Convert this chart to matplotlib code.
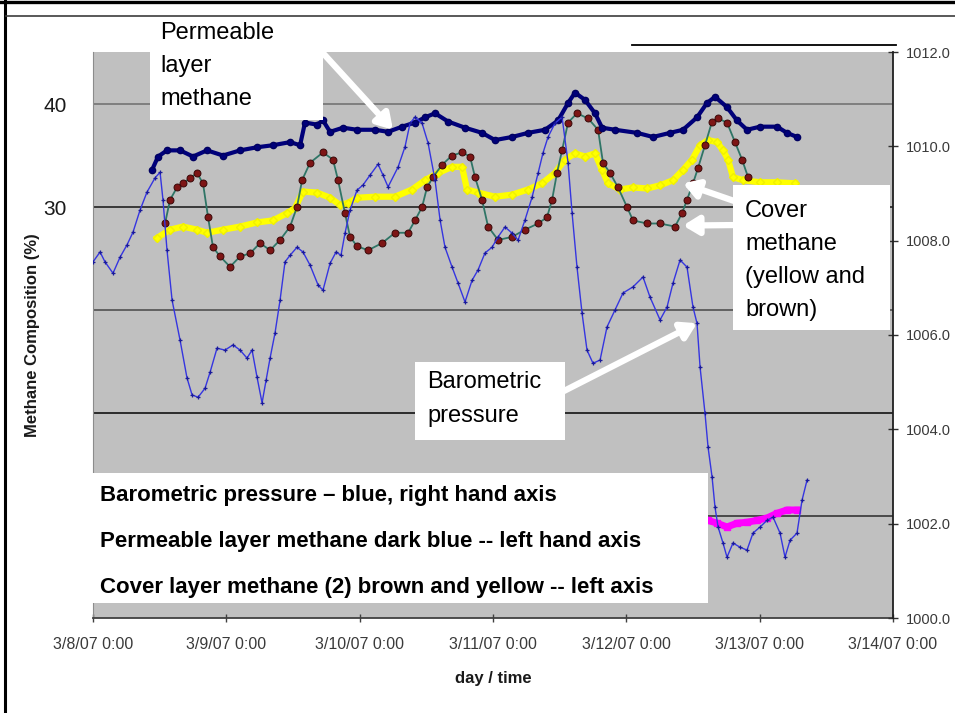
import numpy as np
import pandas as pd
import matplotlib
matplotlib.use("Agg")
import matplotlib.pyplot as plt
import matplotlib.dates as mdates
from matplotlib.patches import Rectangle
from matplotlib.lines import Line2D
from matplotlib.ticker import FuncFormatter

W, H = 955, 713
plt.rcParams["font.family"] = ["Liberation Sans", "DejaVu Sans"]

# ── series (time in days after 3/8/07 0:00) ────────────────────────────────
# barometric pressure, hPa (right axis)
pressure_day = [0.000, 0.053, 0.090, 0.150, 0.203, 0.255, 0.300, 0.353, 0.405, 0.465,
                0.503, 0.525, 0.555, 0.593, 0.653, 0.705, 0.743, 0.788, 0.840, 0.878,
                0.930, 0.990, 1.050, 1.103, 1.155, 1.193, 1.230, 1.268, 1.298, 1.328,
                1.365, 1.403, 1.440, 1.478, 1.530, 1.575, 1.628, 1.688, 1.725, 1.778,
                1.823, 1.860, 1.890, 1.928, 1.980, 2.025, 2.078, 2.138, 2.175, 2.213,
                2.288, 2.340, 2.378, 2.415, 2.468, 2.513, 2.565, 2.603, 2.640, 2.693,
                2.738, 2.790, 2.843, 2.888, 2.940, 2.993, 3.038, 3.090, 3.143, 3.188,
                3.240, 3.293, 3.338, 3.375, 3.413, 3.465, 3.518, 3.563, 3.593, 3.630,
                3.668, 3.705, 3.750, 3.803, 3.855, 3.915, 3.975, 4.050, 4.125, 4.178,
                4.253, 4.305, 4.350, 4.403, 4.455, 4.500, 4.530, 4.553, 4.590, 4.613,
                4.643, 4.665, 4.688, 4.725, 4.755, 4.800, 4.853, 4.905, 4.950, 5.003,
                5.055, 5.100, 5.153, 5.190, 5.228, 5.280, 5.318, 5.355]
pressure_hpa = [1007.55, 1007.76, 1007.55, 1007.31, 1007.65, 1007.91, 1008.18, 1008.65, 1009.03, 1009.33,
                1009.45, 1008.86, 1007.80, 1006.74, 1005.89, 1005.09, 1004.73, 1004.68, 1004.87, 1005.21,
                1005.72, 1005.68, 1005.79, 1005.68, 1005.51, 1005.68, 1005.11, 1004.56, 1005.04, 1005.51,
                1006.04, 1006.74, 1007.55, 1007.69, 1007.86, 1007.76, 1007.48, 1007.06, 1006.95, 1007.52,
                1007.76, 1007.69, 1008.16, 1008.65, 1009.07, 1009.18, 1009.39, 1009.62, 1009.39, 1009.14,
                1009.56, 1009.99, 1010.49, 1010.62, 1010.49, 1010.07, 1009.29, 1008.44, 1007.86, 1007.44,
                1007.10, 1006.70, 1007.16, 1007.38, 1007.74, 1007.86, 1008.08, 1008.29, 1008.16, 1008.01,
                1008.44, 1008.92, 1009.43, 1009.86, 1010.20, 1010.49, 1010.62, 1009.65, 1008.59, 1007.44,
                1006.46, 1005.68, 1005.40, 1005.47, 1006.17, 1006.53, 1006.89, 1007.02, 1007.23, 1006.80,
                1006.32, 1006.59, 1007.10, 1007.59, 1007.44, 1006.59, 1006.25, 1005.32, 1004.34, 1003.62,
                1002.99, 1002.35, 1001.93, 1001.59, 1001.29, 1001.59, 1001.50, 1001.44, 1001.80, 1001.93,
                1002.07, 1002.14, 1001.80, 1001.29, 1001.65, 1001.80, 1002.50, 1002.92]

# second pressure record (magenta), hPa (right axis)
magenta_day = [4.613, 4.680, 4.755, 4.830, 4.905, 4.980, 5.055, 5.130, 5.205, 5.280]
magenta_hpa = [1002.07, 1002.01, 1001.93, 1002.01, 1002.03, 1002.07, 1002.12, 1002.22, 1002.29, 1002.29]

# permeable layer methane, % (left axis)
perm_day = [0.443, 0.488, 0.555, 0.653, 0.750, 0.855, 0.975, 1.103, 1.230, 1.350,
            1.478, 1.553, 1.590, 1.680, 1.725, 1.778, 1.875, 1.980, 2.115, 2.213,
            2.318, 2.415, 2.490, 2.565, 2.663, 2.790, 2.918, 3.015, 3.143, 3.263,
            3.390, 3.488, 3.563, 3.615, 3.690, 3.765, 3.818, 3.915, 4.080, 4.200,
            4.328, 4.425, 4.530, 4.605, 4.665, 4.755, 4.830, 4.905, 5.003, 5.130,
            5.205, 5.280]
perm_pct = [33.6, 34.9, 35.5, 35.5, 34.9, 35.5, 35.0, 35.5, 35.8, 36.0,
            36.3, 36.0, 38.2, 38.0, 38.4, 37.3, 37.7, 37.5, 37.5, 37.3,
            37.8, 38.2, 38.7, 39.1, 38.3, 37.7, 37.2, 36.5, 36.8, 37.2,
            37.5, 38.4, 40.1, 41.1, 40.4, 39.1, 37.7, 37.5, 37.2, 36.8,
            37.2, 37.5, 38.7, 40.1, 40.7, 39.7, 38.4, 37.5, 37.8, 37.8,
            37.2, 36.8]

# cover methane, brown record, % (left axis)
brown_day = [0.540, 0.578, 0.630, 0.675, 0.728, 0.780, 0.825, 0.863, 0.900, 0.953,
             1.028, 1.103, 1.178, 1.253, 1.328, 1.403, 1.478, 1.530, 1.568, 1.628,
             1.725, 1.800, 1.838, 1.890, 1.928, 1.980, 2.063, 2.168, 2.265, 2.363,
             2.415, 2.468, 2.505, 2.550, 2.618, 2.693, 2.768, 2.828, 2.865, 2.918,
             2.963, 3.038, 3.143, 3.240, 3.338, 3.405, 3.443, 3.480, 3.518, 3.563,
             3.630, 3.713, 3.788, 3.825, 3.878, 3.938, 4.005, 4.050, 4.155, 4.253,
             4.365, 4.418, 4.455, 4.500, 4.538, 4.590, 4.643, 4.688, 4.755, 4.815,
             4.868, 4.913]
brown_pct = [28.4, 30.7, 31.9, 32.3, 32.8, 33.3, 32.3, 29.0, 26.1, 25.2,
             24.2, 25.2, 25.5, 26.5, 25.8, 26.8, 28.1, 30.0, 32.6, 34.3,
             35.3, 34.6, 32.6, 29.4, 27.1, 26.2, 25.8, 26.5, 27.5, 27.5,
             28.7, 30.0, 31.9, 32.9, 34.1, 35.0, 35.3, 34.9, 32.9, 30.7,
             28.1, 26.8, 27.1, 27.8, 28.4, 29.0, 30.7, 33.3, 35.5, 38.2,
             39.1, 38.6, 37.5, 34.3, 33.3, 31.9, 30.0, 28.7, 28.4, 28.4,
             28.1, 29.4, 30.7, 32.3, 33.8, 36.0, 38.3, 38.6, 38.2, 36.3,
             34.6, 32.9]

# cover methane, yellow record, % (left axis)
yellow_day = [0.480, 0.578, 0.675, 0.780, 0.855, 0.975, 1.103, 1.230, 1.350, 1.455,
              1.515, 1.575, 1.680, 1.778, 1.853, 1.913, 1.980, 2.115, 2.265, 2.393,
              2.490, 2.588, 2.693, 2.768, 2.805, 2.888, 3.015, 3.143, 3.263, 3.368,
              3.465, 3.540, 3.615, 3.690, 3.765, 3.818, 3.863, 3.953, 4.050, 4.155,
              4.253, 4.350, 4.425, 4.493, 4.553, 4.613, 4.680, 4.725, 4.763, 4.800,
              4.875, 5.003, 5.130, 5.265]
yellow_pct = [27.0, 27.8, 28.1, 27.8, 27.5, 27.8, 28.1, 28.5, 28.7, 29.4,
              29.9, 31.5, 31.4, 30.9, 30.2, 30.4, 30.9, 31.0, 31.0, 31.7,
              32.6, 33.3, 33.9, 33.9, 31.7, 31.4, 31.0, 31.2, 31.7, 32.3,
              33.3, 34.6, 35.2, 34.9, 35.2, 33.6, 32.3, 31.7, 31.9, 31.8,
              32.1, 32.6, 33.6, 34.6, 36.0, 36.5, 36.3, 35.5, 34.6, 32.9,
              32.6, 32.4, 32.4, 32.3]

t0 = pd.Timestamp("2007-03-08 00:00")


def to_time(days):
    return t0 + pd.to_timedelta(np.asarray(days), unit="D")


def fig_xy(x, y):
    # pixel position (from top-left) -> figure fraction
    return x / W, 1 - y / H


def date_label(num, pos=None):
    d = mdates.num2date(num)
    return f"{d.month}/{d.day}/{d:%y} {d.hour}:{d:%M}"


fig = plt.figure(figsize=(W / 100, H / 100), dpi=100)
fig.patch.set_facecolor("white")
ax = fig.add_axes([93 / W, 1 - 618 / H, 800 / W, 566 / H])
ax.set_facecolor("#c0c0c0")

# horizontal grid (left axis decades)
for v, c in zip([0, 10, 20, 30, 40], ["#404040", "#202020", "#5a5a5a", "#2e2e2e", "#7a7a7a"]):
    ax.axhline(v, color=c, lw=1.3, zorder=1)

ax.plot(to_time(yellow_day), yellow_pct, color="#ffff00", lw=4.5, marker="D", ms=4.5,
        mec="#f0f000", zorder=3)
ax.plot(to_time(brown_day), brown_pct, color="#2f7566", lw=1.3, zorder=4)
ax.plot(to_time(brown_day), brown_pct, ls="none", marker="o", ms=5,
        mfc="#7d1515", mec="#3a0808", mew=0.7, zorder=5)
ax.plot(to_time(perm_day), perm_pct, color="#00007a", lw=3, marker="o", ms=4.5,
        mec="#000060", zorder=6)

ax.set_xlim(t0, t0 + pd.Timedelta(days=6))
ax.set_ylim(-9.9, 45.05)
ax.xaxis.set_major_locator(mdates.DayLocator())
ax.xaxis.set_major_formatter(FuncFormatter(date_label))
ax.tick_params(axis="x", direction="inout", length=6, width=1, color="#404040",
               labelsize=11.5, labelcolor="#3a3a3a", pad=11)
ax.set_yticks([30, 40])
ax.tick_params(axis="y", length=0, pad=19, labelsize=15, labelcolor="#1a1a1a")
ax.spines["top"].set_visible(False)
ax.spines["right"].set_visible(False)
ax.spines["left"].set_color("#8c8c8c")
ax.spines["left"].set_linewidth(0.8)
ax.spines["bottom"].set_color("#404040")
ax.spines["bottom"].set_linewidth(1.3)

ax2 = ax.twinx()
ax2.plot(to_time(magenta_day), magenta_hpa, color="#ff00ff", lw=5, marker="s", ms=5,
         mec="#ff00ff", zorder=2)
ax2.plot(to_time(pressure_day), pressure_hpa, color="#3535e0", lw=1, marker="+", ms=3,
         mew=0.9, mec="#1a1a9a", zorder=3)
ax2.set_ylim(1000, 1012)
ax2.set_yticks(np.arange(1000, 1013, 2))
ax2.yaxis.set_major_formatter(FuncFormatter(lambda v, p: f"{v:.1f}"))
ax2.tick_params(axis="y", direction="inout", length=7, width=1, color="#303030",
                labelsize=10.5, labelcolor="#3a3a3a", pad=6)
for s in ["top", "left", "bottom"]:
    ax2.spines[s].set_visible(False)
ax2.spines["right"].set_color("#202020")
ax2.spines["right"].set_linewidth(1.3)

# page frame lines
fig.add_artist(Line2D([0, 1], [1 - 1.5 / H] * 2, color="black", lw=2.4))
fig.add_artist(Line2D([5 / W] * 2, [0, 1], color="black", lw=2.2))
fig.add_artist(Line2D([6 / W, 1], [1 - 16 / H] * 2, color="#3c3c3c", lw=1.2))
fig.add_artist(Line2D([632 / W, 896 / W], [1 - 45 / H] * 2, color="black", lw=1.3))

# axis titles
fig.text(*fig_xy(33, 335), "Methane Composition (%)", rotation=90, ha="center",
         va="center", fontsize=12, fontweight="bold", color="#1a1a1a")
fig.text(*fig_xy(493, 678), "day / time", ha="center", va="center", fontsize=12,
         fontweight="bold", color="#1a1a1a")


def white_box(x0, y0, x1, y1):
    fig.add_artist(Rectangle(fig_xy(x0, y1), (x1 - x0) / W, (y1 - y0) / H,
                             transform=fig.transFigure, facecolor="white",
                             edgecolor="none"))


def box_lines(x, ys, lines, **kw):
    for y, s in zip(ys, lines):
        fig.text(*fig_xy(x, y), s, ha="left", va="center", color="black", **kw)


arrow_kw = dict(arrowstyle="-|>,head_length=0.9,head_width=0.55", color="white",
                lw=4.5, shrinkA=0, shrinkB=0)


def arrow(tail, tip, trans):
    ax2.annotate("", xy=(mdates.date2num(t0 + pd.Timedelta(days=tip[0])), tip[1]),
                 xycoords=trans, xytext=(tail[0], H - tail[1]),
                 textcoords="figure pixels", arrowprops=arrow_kw,
                 annotation_clip=False)


arrow((322, 52), (2.25, 37.5), ax.transData)
arrow((740, 203), (4.425, 32.3), ax.transData)
arrow((740, 225), (4.425, 28.2), ax.transData)
arrow((562, 392), (4.53, 1006.25), ax2.transData)

white_box(150, 17, 323, 120)
box_lines(160, [33, 66, 99], ["Permeable", "layer", "methane"], fontsize=17)

white_box(733, 185, 890, 330)
box_lines(745, [211, 244, 277, 310], ["Cover", "methane", "(yellow and", "brown)"],
          fontsize=17)

white_box(415, 362, 565, 440)
box_lines(427, [382, 416], ["Barometric", "pressure"], fontsize=17)

white_box(88, 473, 708, 603)
box_lines(100, [495, 541, 588],
          ["Barometric pressure \u2013 blue, right hand axis",
           "Permeable layer methane dark blue -- left hand axis",
           "Cover layer methane (2) brown and yellow -- left axis"],
          fontsize=16, fontweight="bold")

fig.savefig("out.png", dpi=100, facecolor="white")
